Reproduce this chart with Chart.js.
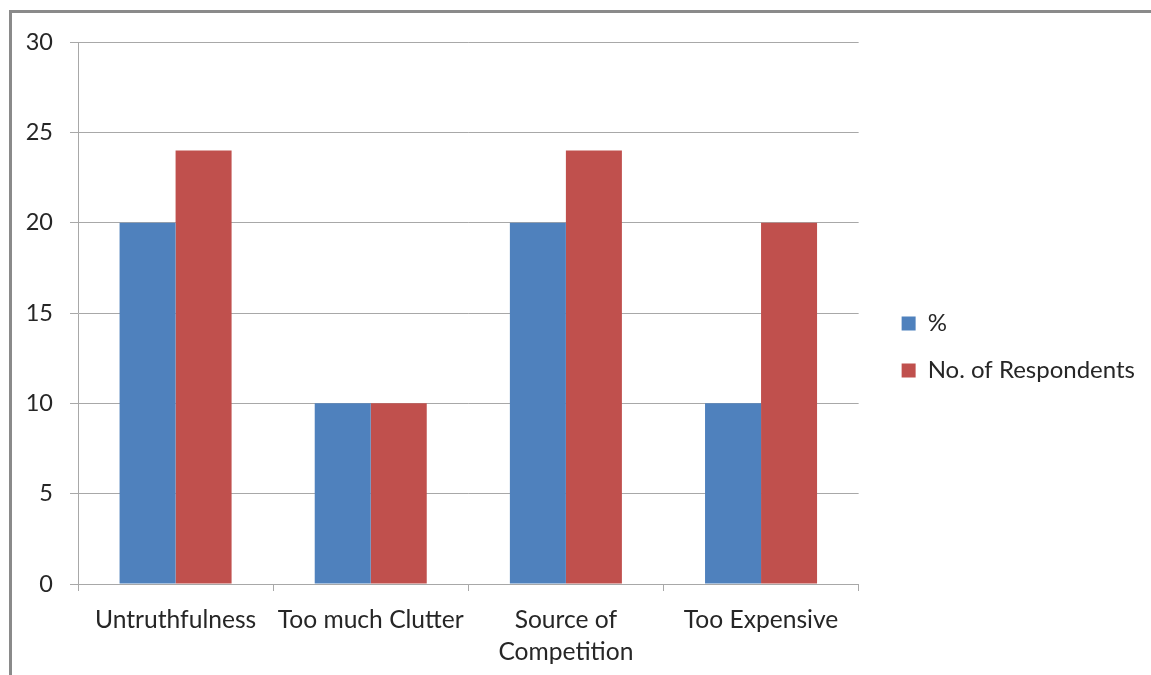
<!DOCTYPE html>
<html>
<head>
<meta charset="utf-8">
<script src="https://cdn.jsdelivr.net/npm/chart.js@4.4.0/dist/chart.umd.min.js"></script>
<style>
  html, body { margin: 0; padding: 0; background: #fff; }
  #wrap { position: relative; width: 1151px; height: 675px; }
</style>
</head>
<body>
<div id="wrap"><canvas id="barChart" width="1151" height="675"></canvas></div>
<script>
const categories = ["Untruthfulness", "Too much Clutter", ["Source of", "Competition"], "Too Expensive"];
const percentValues = [20, 10, 20, 10];
const respondentValues = [24, 10, 24, 20];
const yTicks = [0, 5, 10, 15, 20, 25, 30];

const textColor = "#262626";
const gridColor = "#a8a8a8";
const fontFamily = "Lato, 'Open Sans', sans-serif";

// outer frame around the chart (left + top edges visible)
const framePlugin = {
  id: "frame",
  beforeDraw(chart) {
    const c = chart.ctx;
    c.save();
    c.fillStyle = "#fff";
    c.fillRect(0, 0, chart.width, chart.height);
    c.strokeStyle = "#8a8a8a";
    c.lineWidth = 3;
    c.beginPath();
    c.moveTo(10.5, chart.height + 5);
    c.lineTo(10.5, 11.5);
    c.lineTo(chart.width + 5, 11.5);
    c.stroke();
    c.restore();
  }
};

// let the legend take its natural width instead of the layout's cap
const legendWidthPlugin = {
  id: "legendWidth",
  beforeInit(chart) {
    const legend = chart.legend;
    if (!legend) return;
    const fit = legend.fit;
    legend.fit = function () {
      this.maxWidth = 400;
      fit.call(this);
    };
  }
};

new Chart(document.getElementById("barChart"), {
  type: "bar",
  data: {
    labels: categories,
    datasets: [
      { label: "%", data: percentValues, backgroundColor: "#4f81bd", xAxisID: "x", yAxisID: "y" },
      { label: "No. of Respondents", data: respondentValues, backgroundColor: "#c0504d", xAxisID: "x", yAxisID: "y" }
    ]
  },
  options: {
    responsive: false,
    animation: false,
    devicePixelRatio: 1,
    categoryPercentage: 0.574,
    barPercentage: 1,
    layout: { padding: { left: 20, top: 26, right: 6, bottom: 7 } },
    plugins: {
      tooltip: { enabled: false },
      legend: {
        position: "right",
        labels: {
          color: textColor,
          font: { family: fontFamily, size: 24 },
          boxWidth: 14,
          boxHeight: 14,
          padding: 23
        }
      }
    },
    scales: {
      x: {
        afterFit(scale) { scale.height = 84; },
        grid: { display: true, drawOnChartArea: false, drawTicks: true, tickLength: 7, color: gridColor, offset: true },
        border: { color: gridColor, width: 1 },
        ticks: { color: textColor, font: { family: fontFamily, size: 24.6, lineHeight: 1.3 }, padding: 13, maxRotation: 0, autoSkip: false }
      },
      y: {
        min: 0,
        max: 30,
        afterBuildTicks(scale) { scale.ticks = yTicks.map(v => ({ value: v })); },
        afterFit(scale) { scale.width = 58; },
        grid: { color: gridColor, tickLength: 8 },
        border: { color: gridColor, width: 1 },
        ticks: { color: textColor, font: { family: fontFamily, size: 23.5 }, padding: 17 }
      },
      // empty spacers: above the plot and between the plot and the legend
      topGap: {
        type: "linear",
        position: "top",
        afterFit(scale) { scale.height = 16; },
        grid: { display: false },
        border: { display: false },
        ticks: { display: false }
      },
      gap: {
        type: "linear",
        position: "right",
        afterFit(scale) { scale.width = 20; },
        grid: { display: false },
        border: { display: false },
        ticks: { display: false }
      }
    }
  },
  plugins: [framePlugin, legendWidthPlugin]
});
</script>
</body>
</html>
